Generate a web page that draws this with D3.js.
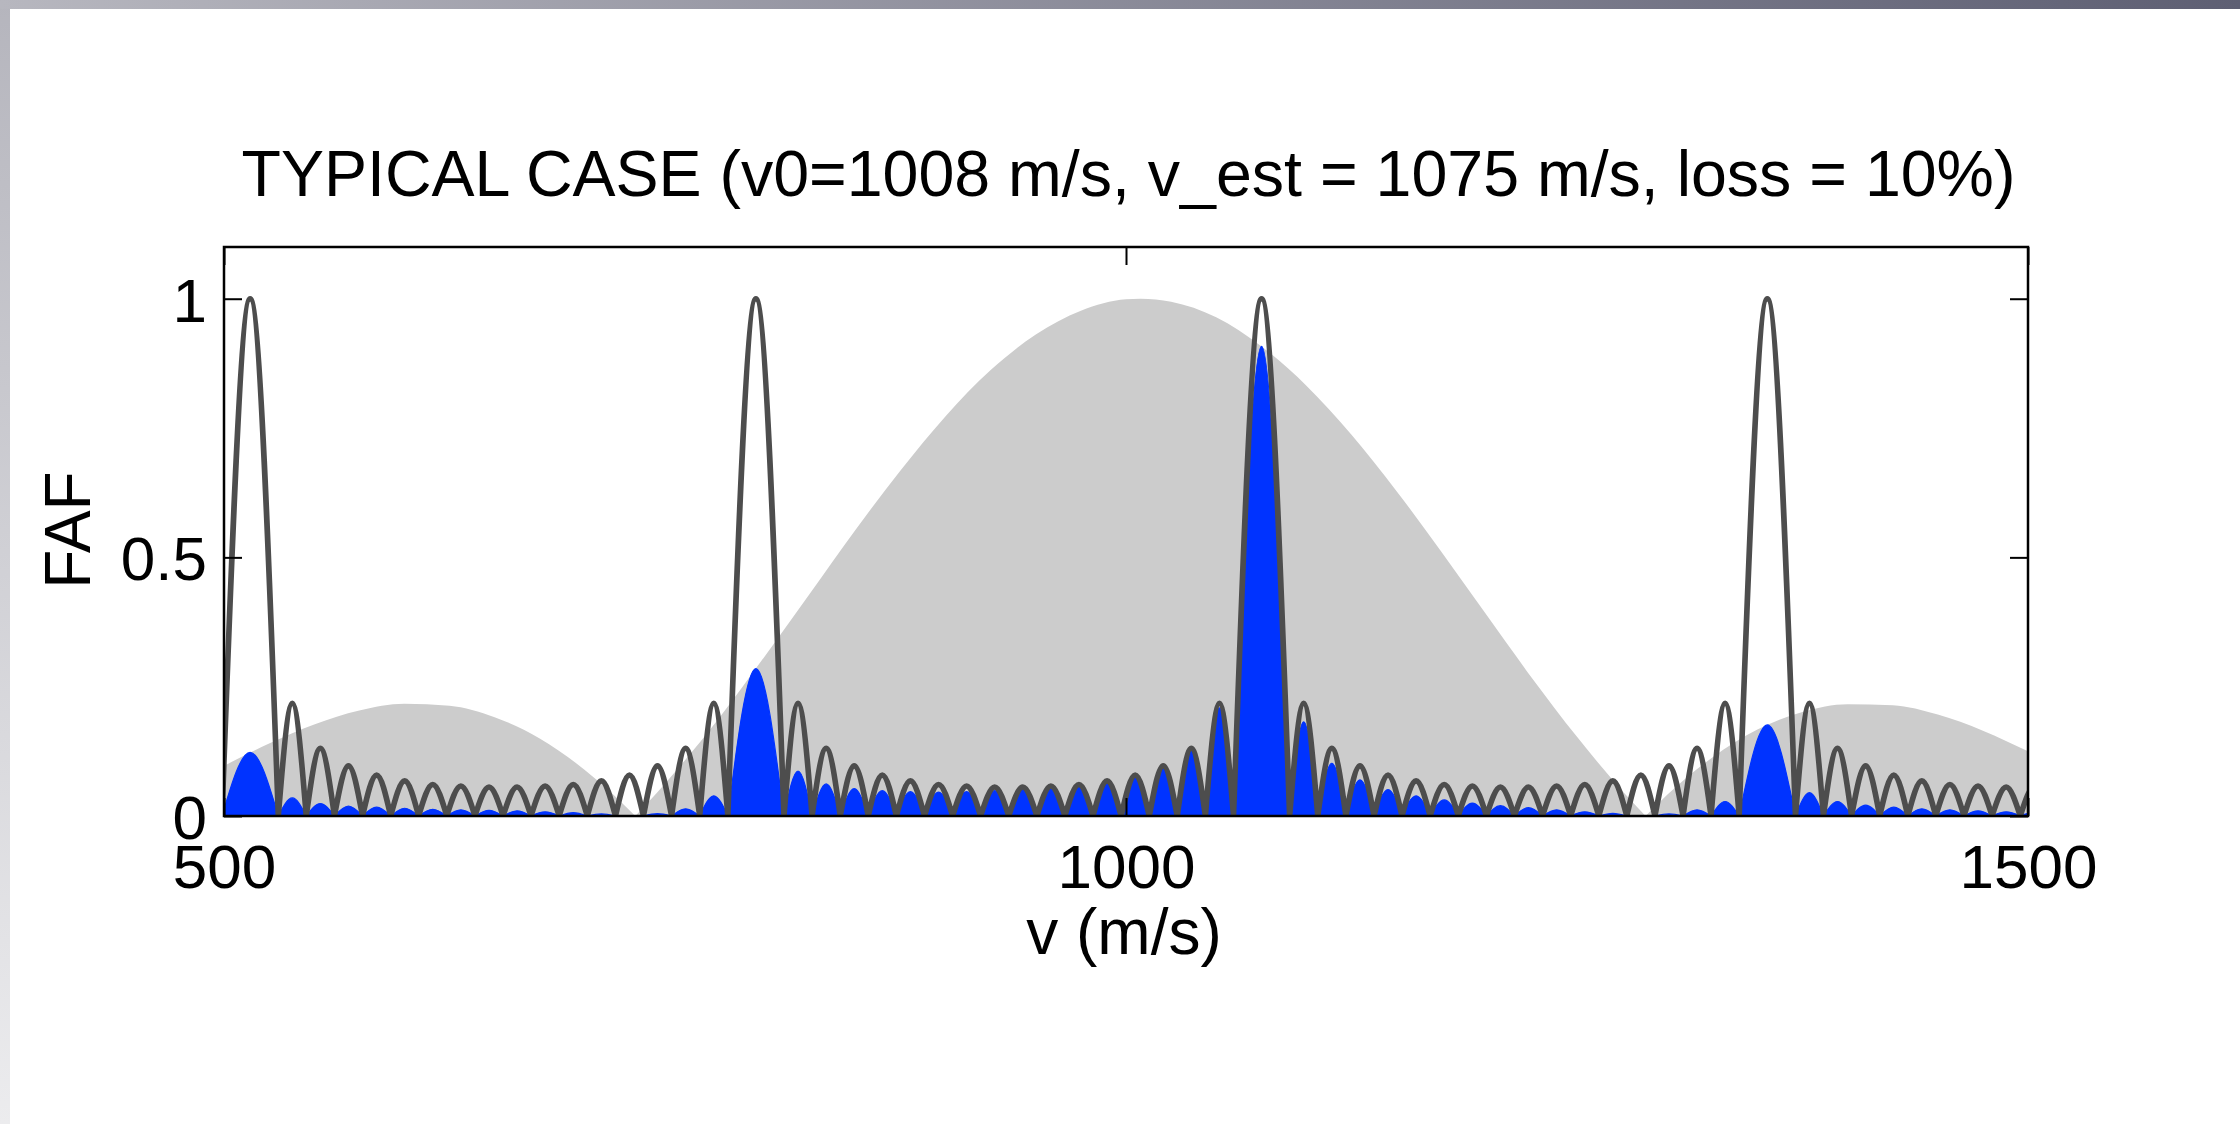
<!DOCTYPE html>
<html>
<head>
<meta charset="utf-8">
<script src="https://cdn.jsdelivr.net/npm/d3@7"></script>
<style>
  html, body { margin: 0; padding: 0; background: #ffffff; }
  svg { display: block; font-family: "Liberation Sans", Arial, Helvetica, sans-serif; }
</style>
</head>
<body>
<svg id="chart" width="2240" height="1124"></svg>
<script>
// ---------------------------------------------------------------
// Data
// ---------------------------------------------------------------
const titleText = "TYPICAL CASE (v0=1008 m/s, v_est = 1075 m/s, loss = 10%)";
const xLabel = "v (m/s)";
const yLabel = "FAF";
const xTicks = [500, 1000, 1500];
const yTicks = [0, 0.5, 1];

// Zero crossings of the FAF comb (m/s); consecutive pairs bound one lobe.
const combZeros = [
  498.9, 530.1,
  545.6, 561.2, 576.8, 592.4, 607.9, 623.5, 639.1, 654.7, 670.2, 685.8,
  701.4, 717.0, 732.5, 748.1, 763.7, 779.3,
  810.4, 826.0, 841.6, 857.1, 872.7, 888.3, 903.9, 919.4, 935.0, 950.6,
  966.1, 981.7, 997.3, 1012.9, 1028.4, 1044.0, 1059.6,
  1090.7, 1106.3, 1121.9, 1137.5, 1153.0, 1168.6, 1184.2, 1199.8, 1215.3,
  1230.9, 1246.5, 1262.1, 1277.6, 1293.2, 1308.8, 1324.3, 1339.9,
  1371.1, 1386.6, 1402.2, 1417.8, 1433.4, 1448.9, 1464.5, 1480.1, 1495.7, 1511.2
];

// Peak height of each comb lobe (dark line), one per pair of zeros.
const combPeaks = [
  1.0,
  0.218, 0.131, 0.097, 0.079, 0.068, 0.061, 0.058, 0.056,
  0.056, 0.058, 0.061, 0.068, 0.079, 0.097, 0.131, 0.218,
  1.0,
  0.218, 0.131, 0.097, 0.079, 0.068, 0.061, 0.058, 0.056,
  0.056, 0.058, 0.061, 0.068, 0.079, 0.097, 0.131, 0.218,
  1.0,
  0.218, 0.131, 0.097, 0.079, 0.068, 0.061, 0.058, 0.056,
  0.056, 0.058, 0.061, 0.068, 0.079, 0.097, 0.131, 0.218,
  1.0,
  0.218, 0.131, 0.097, 0.079, 0.068, 0.061, 0.058, 0.056, 0.056
];

// Peak height of each lobe of the weighted FAF (blue fill).
const weightedPeaks = [
  0.123,
  0.035, 0.024, 0.019, 0.017, 0.015, 0.013, 0.012, 0.011,
  0.010, 0.008, 0.0065, 0.004, 0.001, 0.0044, 0.014, 0.039,
  0.285,
  0.087, 0.062, 0.053, 0.049, 0.047, 0.046, 0.047, 0.049,
  0.051, 0.055, 0.060, 0.068, 0.079, 0.097, 0.129, 0.209,
  0.908,
  0.182, 0.102, 0.070, 0.051, 0.039, 0.031, 0.025, 0.020,
  0.016, 0.012, 0.008, 0.005, 0.001, 0.004, 0.012, 0.028,
  0.176,
  0.045, 0.028, 0.021, 0.017, 0.014, 0.012, 0.010, 0.008, 0.007
];

// Velocity prior envelope (gray fill): samples in m/s and values.
const envelopeV = [
  500, 525, 550, 575, 600, 625, 650, 675, 700, 715, 728,
  740, 750, 775, 800, 825, 850, 875, 900, 925, 950, 975, 1000, 1008,
  1025, 1050, 1075, 1100, 1125, 1150, 1175, 1200, 1225, 1250, 1275, 1288,
  1300, 1325, 1350, 1375, 1400, 1425, 1450, 1475, 1500
];
const envelopeG = [
  0.097, 0.140, 0.177, 0.204, 0.217, 0.213, 0.191, 0.150, 0.089, 0.044, 0,
  0.045, 0.085, 0.192, 0.310, 0.431, 0.553, 0.668, 0.773, 0.862, 0.931, 0.977, 0.999, 1.0,
  0.994, 0.964, 0.908, 0.832, 0.737, 0.628, 0.510, 0.388, 0.267, 0.153, 0.049, 0,
  0.041, 0.113, 0.167, 0.201, 0.216, 0.214, 0.196, 0.165, 0.125
];

// ---------------------------------------------------------------
// Layout
// ---------------------------------------------------------------
const W = 2240, H = 1124;
const plot = { left: 224, right: 2028, top: 247, bottom: 816 };
const colors = {
  envelope: "#cccccc",
  weighted: "#0033ff",
  comb: "#4d4d4d",
  axis: "#000000"
};

const svg = d3.select("#chart");

// Slide frame: gradient bar along the top and the left edge
const defs = svg.append("defs");
const gTop = defs.append("linearGradient").attr("id", "frameTop")
  .attr("x1", "0%").attr("x2", "100%").attr("y1", "0%").attr("y2", "0%");
gTop.append("stop").attr("offset", "0%").attr("stop-color", "#b7b7bf");
gTop.append("stop").attr("offset", "100%").attr("stop-color", "#5e5f73");
const gLeft = defs.append("linearGradient").attr("id", "frameLeft")
  .attr("x1", "0%").attr("x2", "0%").attr("y1", "0%").attr("y2", "100%");
gLeft.append("stop").attr("offset", "0%").attr("stop-color", "#b5b5bd");
gLeft.append("stop").attr("offset", "100%").attr("stop-color", "#ececee");

svg.append("rect").attr("x", 0).attr("y", 0).attr("width", W).attr("height", H).attr("fill", "#ffffff");
svg.append("rect").attr("x", 0).attr("y", 0).attr("width", 10).attr("height", H).attr("fill", "url(#frameLeft)");
svg.append("rect").attr("x", 0).attr("y", 0).attr("width", W).attr("height", 9).attr("fill", "url(#frameTop)");

defs.append("clipPath").attr("id", "plotClip")
  .append("rect")
  .attr("x", plot.left).attr("y", plot.top)
  .attr("width", plot.right - plot.left).attr("height", plot.bottom - plot.top);

// Scales
const x = d3.scaleLinear().domain([500, 1500]).range([plot.left, plot.right]);
const y = d3.scaleLinear().domain([0, 1.1]).range([plot.bottom, plot.top]);

const data = svg.append("g").attr("clip-path", "url(#plotClip)");

// ---------------------------------------------------------------
// Gray envelope: one area per lobe, split at its zeros
// ---------------------------------------------------------------
const envPts = envelopeV.map((v, i) => [v, envelopeG[i]]);
const envSegments = [];
let seg = [];
envPts.forEach((p, i) => {
  seg.push(p);
  if (p[1] === 0 && i > 0 && i < envPts.length - 1) {
    envSegments.push(seg);
    seg = [p];
  }
});
envSegments.push(seg);

const envArea = d3.area()
  .x(d => x(d[0]))
  .y0(y(0))
  .y1(d => y(d[1]))
  .curve(d3.curveMonotoneX);

data.append("g").selectAll("path")
  .data(envSegments)
  .join("path")
  .attr("d", envArea)
  .attr("fill", colors.envelope);

// ---------------------------------------------------------------
// Lobes of the comb and of the weighted FAF
// ---------------------------------------------------------------
const lobes = d3.range(combZeros.length - 1).map(i => {
  const a = combZeros[i], b = combZeros[i + 1];
  return { a, b, mid: (a + b) / 2, comb: combPeaks[i], weighted: weightedPeaks[i] };
});

const lobeArea = d3.area()
  .x(d => x(d[0]))
  .y0(y(0))
  .y1(d => y(d[1]))
  .curve(d3.curveNatural);

data.append("g").selectAll("path")
  .data(lobes)
  .join("path")
  .attr("d", d => lobeArea([[d.a, 0], [d.mid, d.weighted], [d.b, 0]]))
  .attr("fill", colors.weighted)
  .attr("stroke", colors.weighted)
  .attr("stroke-width", 1.2);

const lobeLine = d3.line()
  .x(d => x(d[0]))
  .y(d => y(d[1]))
  .curve(d3.curveNatural);

const combPath = lobes.map((d, i) => {
  const s = lobeLine([[d.a, 0], [d.mid, d.comb], [d.b, 0]]);
  return i === 0 ? s : s.replace(/^M/, "L");
}).join("");

data.append("path")
  .attr("d", combPath)
  .attr("fill", "none")
  .attr("stroke", colors.comb)
  .attr("stroke-width", 5.6)
  .attr("stroke-linejoin", "round")
  .attr("stroke-linecap", "round");

// ---------------------------------------------------------------
// Axes (ticks point inward on all four sides)
// ---------------------------------------------------------------
const tickLen = 18;
const fmtY = d => String(d);

function styleAxis(g, fontSize) {
  g.select(".domain").remove();
  g.selectAll(".tick line").attr("stroke", colors.axis).attr("stroke-width", 2);
  g.selectAll(".tick text")
    .attr("fill", "#000")
    .style("font-size", fontSize + "px")
    .style("font-family", "'Liberation Sans', Arial, Helvetica, sans-serif");
}

svg.append("g")
  .attr("transform", `translate(0,${plot.bottom})`)
  .call(d3.axisBottom(x).tickValues(xTicks).tickFormat(d3.format("d"))
    .tickSize(-tickLen).tickPadding(28))
  .call(g => styleAxis(g, 62));

svg.append("g")
  .attr("transform", `translate(0,${plot.top})`)
  .call(d3.axisTop(x).tickValues(xTicks).tickFormat("").tickSize(-tickLen))
  .call(g => styleAxis(g, 62));

svg.append("g")
  .attr("transform", `translate(${plot.left},0)`)
  .call(d3.axisLeft(y).tickValues(yTicks).tickFormat(fmtY)
    .tickSize(-tickLen).tickPadding(17))
  .call(g => styleAxis(g, 62))
  .call(g => g.selectAll(".tick text").attr("dy", "0.36em"));

svg.append("g")
  .attr("transform", `translate(${plot.right},0)`)
  .call(d3.axisRight(y).tickValues(yTicks).tickFormat("").tickSize(-tickLen))
  .call(g => styleAxis(g, 62));

// Axes box
svg.append("rect")
  .attr("x", plot.left).attr("y", plot.top)
  .attr("width", plot.right - plot.left).attr("height", plot.bottom - plot.top)
  .attr("fill", "none")
  .attr("stroke", colors.axis)
  .attr("stroke-width", 2.5);

// ---------------------------------------------------------------
// Title and axis labels
// ---------------------------------------------------------------
svg.append("text")
  .attr("x", 1128.5).attr("y", 196)
  .attr("text-anchor", "middle")
  .style("font-size", "64.5px")
  .attr("fill", "#000")
  .text(titleText);

svg.append("text")
  .attr("x", 1124).attr("y", 954)
  .attr("text-anchor", "middle")
  .style("font-size", "64px")
  .attr("fill", "#000")
  .text(xLabel);

svg.append("text")
  .attr("transform", "translate(90,530) rotate(-90)")
  .attr("text-anchor", "middle")
  .style("font-size", "64px")
  .attr("fill", "#000")
  .text(yLabel);
</script>
</body>
</html>
